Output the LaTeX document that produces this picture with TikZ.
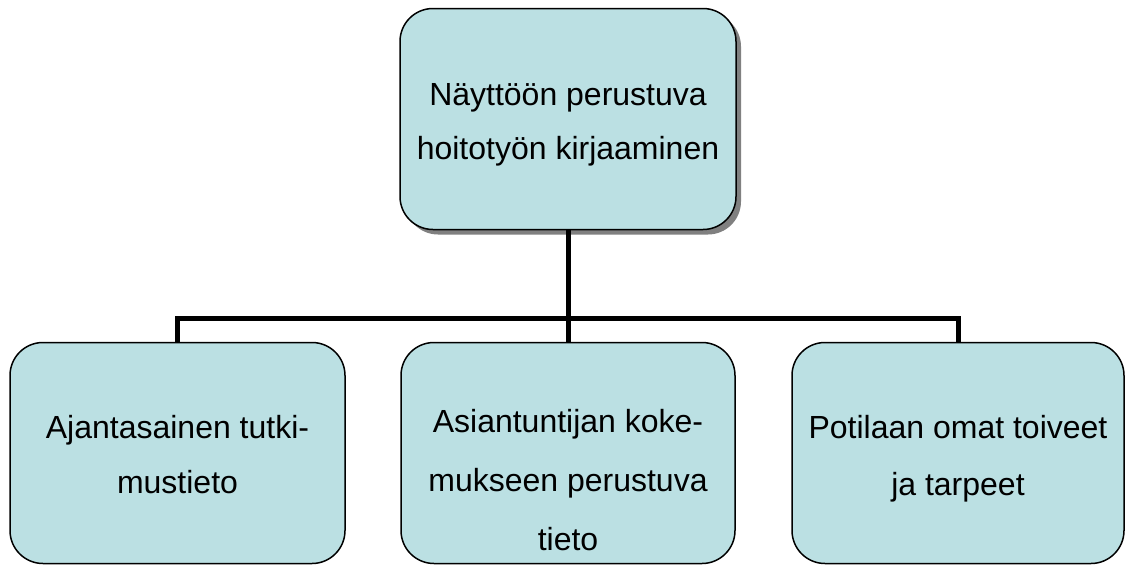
\documentclass[tikz,border=0pt]{standalone}
\usepackage{fontspec}
\setmainfont{Liberation Sans}
\usetikzlibrary{shadows}
\definecolor{boxfill}{HTML}{BBE0E3}
\tikzset{
  box/.style={draw=black, line width=1.5pt, fill=boxfill, rounded corners=33pt,
    inner sep=0pt, minimum height=221pt},
  shadowbox/.style={box, drop shadow={shadow xshift=5pt, shadow yshift=-5pt, fill=black!50, opacity=1}},
  lbl/.style={align=center, inner sep=0pt, font=\fontsize{32}{57}\selectfont, anchor=base},
  conn/.style={draw=black, line width=5pt, line join=miter}
}
\begin{document}
\begin{tikzpicture}[x=1pt, y=-1pt]
\useasboundingbox (0,0) rectangle (1125,565);
\node[shadowbox, minimum width=336pt] (top) at (568,119) {};
\node[box, minimum width=335pt] (b1) at (177.5,453) {};
\node[box, minimum width=334pt] (b2) at (568,453) {};
\node[box, minimum width=332pt] (b3) at (958,453) {};
\coordinate (bar) at (568,318);
\draw[conn] (top.south) -- (bar);
\draw[conn] (b1.north) |- (bar) -| (b3.north);
\draw[conn] (bar) -- (b2.north);
\node[lbl, font=\fontsize{32}{54}\selectfont] (ttop) at (568,159) {Näyttöön perustuva\\hoitotyön kirjaaminen};
\node[lbl, font=\fontsize{32}{55}\selectfont] (t1) at (177.5,493) {Ajantasainen tutki-\\mustieto};
\node[lbl, font=\fontsize{32}{59}\selectfont] (t2) at (568,550) {Asiantuntijan koke-\\mukseen perustuva\\tieto};
\node[lbl] (t3) at (958,495) {Potilaan omat toiveet\\ja tarpeet};
\end{tikzpicture}
\end{document}
